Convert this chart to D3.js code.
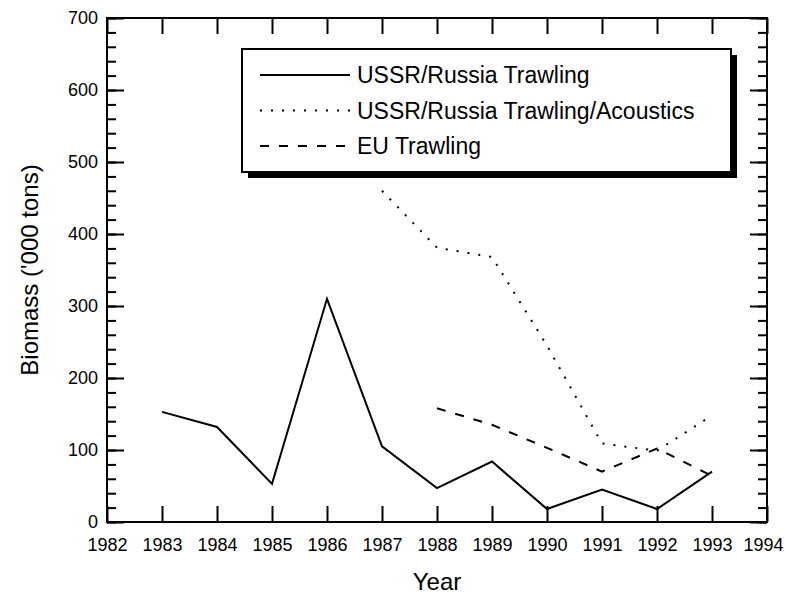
<!DOCTYPE html>
<html>
<head>
<meta charset="utf-8">
<script src="https://cdnjs.cloudflare.com/ajax/libs/d3/7.8.5/d3.min.js"></script>
<style>
  body { margin: 0; background: #fff; }
  svg { font-family: "Liberation Sans", Arial, sans-serif; }
</style>
</head>
<body>
<div id="chart"></div>
<script>
// Data
var years = [1983, 1984, 1985, 1986, 1987, 1988, 1989, 1990, 1991, 1992, 1993];
var ussrTrawling = [153, 132, 53, 310, 105, 47, 84, 18, 45, 18, 70];

var acousticYears = [1987, 1988, 1989, 1990, 1991, 1992, 1993];
var ussrAcoustics = [460, 381, 368, 245, 109, 99, 148];

var euYears = [1988, 1989, 1990, 1991, 1992, 1993];
var euTrawling = [158, 135, 103, 70, 102, 64];

var xTicks = d3.range(1982, 1995);
var yTicks = [0, 100, 200, 300, 400, 500, 600, 700];
var yMinor = d3.range(0, 701, 20);

var legendLabels = ["USSR/Russia Trawling", "USSR/Russia Trawling/Acoustics", "EU Trawling"];

var svgWidth = 785, svgHeight = 596;
var margin = { top: 18, right: 18, bottom: 74, left: 107 };
var width = svgWidth - margin.left - margin.right;
var height = svgHeight - margin.top - margin.bottom;

var svg = d3.select("#chart").append("svg")
  .attr("width", svgWidth)
  .attr("height", svgHeight);

var chartGroup = svg.append("g")
  .attr("transform", `translate(${margin.left}, ${margin.top})`);

var x = d3.scaleLinear().domain([1982, 1994]).range([0, width]);
var y = d3.scaleLinear().domain([0, 700]).range([height, 0]);

// axes, ticks pointing inward
var bottomAxis = d3.axisBottom(x).tickValues(xTicks).tickFormat(d3.format("d"))
  .tickSizeInner(-16).tickSizeOuter(0).tickPadding(16);
var topAxis = d3.axisTop(x).tickValues(xTicks).tickFormat("")
  .tickSizeInner(-16).tickSizeOuter(0);
var leftAxis = d3.axisLeft(y).tickValues(yTicks)
  .tickSizeInner(-17).tickSizeOuter(0).tickPadding(9);
var rightAxis = d3.axisRight(y).tickValues(yTicks).tickFormat("")
  .tickSizeInner(-17).tickSizeOuter(0);
var leftMinor = d3.axisLeft(y).tickValues(yMinor).tickFormat("")
  .tickSizeInner(-9).tickSizeOuter(0);
var rightMinor = d3.axisRight(y).tickValues(yMinor).tickFormat("")
  .tickSizeInner(-9).tickSizeOuter(0);

function styleAxis(g) {
  g.select(".domain").remove();
  g.selectAll(".tick line").attr("stroke", "#000").attr("stroke-width", 2);
  g.selectAll(".tick text").attr("fill", "#000").attr("font-size", "18px");
}

chartGroup.append("g").attr("transform", `translate(0, ${height})`).call(bottomAxis).call(styleAxis)
  .selectAll(".tick text").filter(d => d === 1994).attr("dx", -4);
chartGroup.append("g").call(topAxis).call(styleAxis);
chartGroup.append("g").call(leftAxis).call(styleAxis);
chartGroup.append("g").attr("transform", `translate(${width}, 0)`).call(rightAxis).call(styleAxis);
chartGroup.append("g").call(leftMinor).call(styleAxis);
chartGroup.append("g").attr("transform", `translate(${width}, 0)`).call(rightMinor).call(styleAxis);

// frame
chartGroup.append("rect")
  .attr("width", width)
  .attr("height", height)
  .attr("fill", "none")
  .attr("stroke", "#000")
  .attr("stroke-width", 2);

// lines
var line = d3.line().x(d => x(d[0])).y(d => y(d[1]));

chartGroup.append("path")
  .datum(d3.zip(years, ussrTrawling))
  .attr("d", line)
  .attr("fill", "none")
  .attr("stroke", "#000")
  .attr("stroke-width", 2);

chartGroup.append("path")
  .datum(d3.zip(acousticYears, ussrAcoustics))
  .attr("d", line)
  .attr("fill", "none")
  .attr("stroke", "#000")
  .attr("stroke-width", 2)
  .attr("stroke-dasharray", "2,9");

chartGroup.append("path")
  .datum(d3.zip(euYears, euTrawling))
  .attr("d", line)
  .attr("fill", "none")
  .attr("stroke", "#000")
  .attr("stroke-width", 2)
  .attr("stroke-dasharray", "9,10");

// legend box with drop shadow
var legend = svg.append("g").attr("transform", "translate(242, 49)");
var lw = 489, lh = 123;

legend.append("rect")
  .attr("x", 6).attr("y", 6)
  .attr("width", lw).attr("height", lh)
  .attr("fill", "#000");

legend.append("rect")
  .attr("width", lw).attr("height", lh)
  .attr("fill", "#fff")
  .attr("stroke", "#000")
  .attr("stroke-width", 2);

var dashes = [null, "2,9", "9,10"];
legend.selectAll(".row")
  .data(legendLabels)
  .enter()
  .append("g")
  .attr("transform", (d, i) => `translate(0, ${26 + i * 35.5})`)
  .each(function(d, i) {
    var g = d3.select(this);
    g.append("line")
      .attr("x1", 18).attr("x2", 108)
      .attr("stroke", "#000")
      .attr("stroke-width", 2)
      .attr("stroke-dasharray", dashes[i]);
    g.append("text")
      .attr("x", 115)
      .attr("dy", "0.35em")
      .attr("font-size", "23px")
      .text(d);
  });

// axis titles
chartGroup.append("text")
  .attr("transform", `translate(${width / 2}, ${height + 68})`)
  .attr("text-anchor", "middle")
  .attr("font-size", "24px")
  .text("Year");

chartGroup.append("text")
  .attr("transform", "rotate(-90)")
  .attr("x", -height / 2)
  .attr("y", -margin.left + 38)
  .attr("text-anchor", "middle")
  .attr("font-size", "24px")
  .text("Biomass ('000 tons)");
</script>
</body>
</html>
